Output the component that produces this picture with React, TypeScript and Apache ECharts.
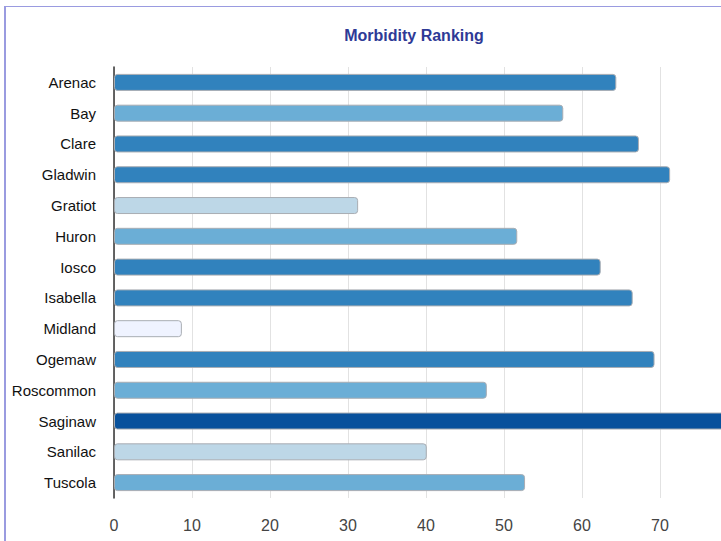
import React, { useEffect, useRef } from "react";
import * as echarts from "echarts";

const counties = [
  "Arenac", "Bay", "Clare", "Gladwin", "Gratiot", "Huron", "Iosco",
  "Isabella", "Midland", "Ogemaw", "Roscommon", "Saginaw", "Sanilac", "Tuscola",
];
const ranking = [64.4, 57.6, 67.3, 71.3, 31.3, 51.7, 62.4, 66.5, 8.7, 69.3, 47.8, 80, 40.1, 52.7];
const rankClass = [3, 2, 3, 3, 1, 2, 3, 3, 0, 3, 2, 4, 1, 2];
const classColors = ["#eff3ff", "#bdd7e7", "#6baed6", "#3182bd", "#08519c"];
const xTicks = [0, 10, 20, 30, 40, 50, 60, 70, 80];

export default function App() {
  const ref = useRef<HTMLDivElement>(null);
  useEffect(() => {
    if (!ref.current) return;
    const chart = echarts.init(ref.current, null, { renderer: "svg" });
    chart.setOption({
      animation: false,
      title: {
        text: "Morbidity Ranking",
        left: "center",
        top: 15,
        textStyle: {
          fontFamily: "Liberation Sans, Arial, sans-serif",
          fontSize: 16,
          fontWeight: "bold",
          color: "#2e3a96",
        },
      },
      grid: { left: 108, top: 60, width: 624, height: 431, containLabel: false },
      xAxis: {
        type: "value",
        min: xTicks[0],
        max: xTicks[xTicks.length - 1],
        interval: 10,
        axisLine: { show: false },
        axisTick: { show: false },
        splitLine: { show: true, lineStyle: { color: "#e2e2e2", width: 1 } },
        axisLabel: {
          margin: 19,
          fontSize: 16,
          color: "#444",
          showMaxLabel: false,
          fontFamily: "Liberation Sans, Arial, sans-serif",
        },
      },
      yAxis: {
        type: "category",
        data: counties,
        inverse: true,
        axisLine: { show: true, lineStyle: { color: "#333", width: 1.5 } },
        axisTick: { show: false },
        splitLine: { show: false },
        axisLabel: {
          margin: 18,
          fontSize: 15,
          color: "#111",
          fontFamily: "Liberation Sans, Arial, sans-serif",
        },
      },
      series: [
        {
          type: "bar",
          barWidth: 17,
          data: ranking.map((v, i) => ({
            value: v,
            itemStyle: { color: classColors[rankClass[i]] },
          })),
          itemStyle: { borderColor: "#a9adb3", borderWidth: 1, borderRadius: 3 },
        },
      ],
    });
    return () => chart.dispose();
  }, []);
  return (
    <div
      style={{
        position: "fixed",
        left: 0,
        top: 0,
        width: 721,
        height: 541,
        overflow: "hidden",
        background: "#fff",
      }}
    >
      <div
        style={{
          position: "absolute",
          left: 4,
          top: 6,
          width: 830,
          height: 620,
          borderLeft: "2px solid #9a9be0",
          borderTop: "1px solid #9a9be0",
        }}
      >
        <div ref={ref} style={{ width: 816, height: 600 }} />
      </div>
    </div>
  );
}
